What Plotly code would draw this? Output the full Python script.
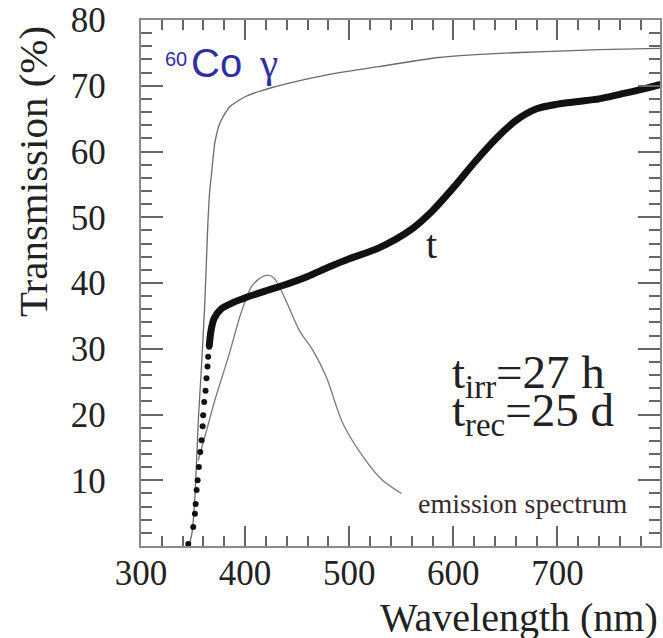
import plotly.graph_objects as go

# ---- data ----
# thick "t" curve: steep (dotted) part
t_steep_wl = [345.4, 350.2, 351.8, 352.5, 353.4, 354.4, 355.6, 356.9, 358.2, 359.2,
              359.7, 360.7, 362.0, 362.9, 363.9, 364.5, 365.5]
t_steep_T = [0.3, 2.9, 4.9, 6.4, 8.5, 10.0, 12.0, 14.3, 16.1, 18.2,
             19.9, 21.9, 23.6, 25.5, 27.3, 28.8, 30.3]
# thick "t" curve: continuous part
t_wl = [365.5, 367.1, 370.2, 377.3, 386.8, 402.7, 421.8, 437.7, 460, 480, 500, 528,
        560, 580, 600, 620, 640, 660, 680, 700, 720, 740, 760, 780, 799]
t_T = [30.3, 32.6, 34.6, 36.1, 36.9, 37.9, 38.9, 39.7, 41.0, 42.4, 43.7, 45.3,
       48.2, 51.0, 54.5, 58.3, 61.8, 64.7, 66.5, 67.2, 67.6, 68.0, 68.7, 69.4, 70.2]
# thin curve (before irradiation)
co_wl = [346, 349, 352, 355, 358, 361, 363, 364.5, 366, 367.8, 370.9, 375.7, 385.2,
         401, 430, 480, 528, 586, 640, 688, 740, 799]
co_T = [0, 2, 8, 19, 27, 36, 44, 50, 54, 56.7, 61.3, 64.3, 66.8,
        68.4, 69.9, 71.7, 72.9, 74.3, 74.9, 75.2, 75.5, 75.7]
# emission spectrum
em_wl = [355, 363, 371, 384, 396, 406, 414, 422, 428, 439, 452, 465, 478, 494, 516, 532, 550]
em_T = [13, 17.6, 22.2, 28.8, 35.4, 39.4, 40.7, 41.2, 40.7, 37.4, 32.8, 29.8, 25.7,
        18.6, 13.0, 10.0, 8.0]

x_ticks = [300, 400, 500, 600, 700]
y_ticks = [10, 20, 30, 40, 50, 60, 70, 80]

SERIF = "Liberation Serif, Times New Roman, serif"
SANS = "Liberation Sans, Arial, sans-serif"
AX = "#666666"
TXT = "#222222"
BLUE = "#2e2ea6"
PAD = "\u00a0\u00a0\u00a0"   # keeps the y tick labels away from the frame

fig = go.Figure()
fig.add_trace(go.Scatter(x=co_wl, y=co_T, mode="lines", line=dict(color="#6a6a6a", width=1.3, shape="spline", smoothing=0.6),
                         hoverinfo="skip", showlegend=False))
fig.add_trace(go.Scatter(x=em_wl, y=em_T, mode="lines", line=dict(color="#7a7a7a", width=1.3, shape="spline", smoothing=0.8),
                         hoverinfo="skip", showlegend=False))
fig.add_trace(go.Scatter(x=t_steep_wl, y=t_steep_T, mode="markers", marker=dict(color="#111", size=6),
                         hoverinfo="skip", showlegend=False))
fig.add_trace(go.Scatter(x=t_wl, y=t_T, mode="lines", line=dict(color="#111", width=7, shape="spline", smoothing=0.8),
                         hoverinfo="skip", showlegend=False))

fig.update_xaxes(range=[300, 798.5], showline=True, linecolor="#8a8a8a", linewidth=2, mirror="ticks",
                 ticks="inside", ticklen=20, tickwidth=2, tickcolor=AX, tickvals=x_ticks,
                 ticklabelstandoff=-5,
                 minor=dict(ticks="inside", ticklen=10, dtick=20, tickcolor=AX, tickwidth=2),
                 showgrid=False, zeroline=False, tickfont=dict(family=SERIF, size=35, color=TXT))
fig.update_yaxes(range=[0, 80], showline=True, linecolor="#8a8a8a", linewidth=2, mirror="ticks",
                 ticks="inside", ticklen=22, tickwidth=2, tickcolor=AX, tickvals=y_ticks,
                 ticktext=[str(v) + PAD for v in y_ticks],
                 minor=dict(ticks="inside", ticklen=11, dtick=2, tickcolor=AX, tickwidth=2),
                 showgrid=False, zeroline=False, tickfont=dict(family=SERIF, size=35, color=TXT))

ann = []
ann.append(dict(text="Wavelength (nm)", xref="paper", yref="paper", x=1.0, y=-0.136,
                xanchor="right", yanchor="middle", showarrow=False,
                font=dict(family=SERIF, size=40, color=TXT)))
ann.append(dict(text="Transmission (%)", xref="paper", yref="paper", x=-0.207, y=0.712,
                xanchor="center", yanchor="middle", textangle=-90, showarrow=False,
                font=dict(family=SERIF, size=41, color=TXT)))
ann.append(dict(text="60", xref="x", yref="y", x=333.7, y=74.1, xanchor="center", yanchor="middle",
                showarrow=False, font=dict(family=SANS, size=20, color=BLUE)))
ann.append(dict(text="Co", xref="x", yref="y", x=346.5, y=73.4, xanchor="left", yanchor="middle",
                showarrow=False, font=dict(family=SANS, size=40, color=BLUE)))
ann.append(dict(text="γ", xref="x", yref="y", x=411, y=73.5, xanchor="left", yanchor="middle",
                showarrow=False, font=dict(family=SERIF, size=41, color=BLUE)))
ann.append(dict(text="t", xref="x", yref="y", x=578.9, y=45.8, xanchor="center", yanchor="middle",
                showarrow=False, font=dict(family=SERIF, size=40, color=TXT)))
ann.append(dict(text="t<sub>irr</sub>=27 h", xref="x", yref="y", x=596.5, y=26.0, xanchor="left", yanchor="middle",
                showarrow=False, font=dict(family=SERIF, size=47, color=TXT)))
ann.append(dict(text="t<sub>rec</sub>=25 d", xref="x", yref="y", x=596.5, y=20.1, xanchor="left", yanchor="middle",
                showarrow=False, font=dict(family=SERIF, size=47, color=TXT)))
ann.append(dict(text="emission spectrum", xref="x", yref="y", x=564.6, y=6.5, xanchor="left", yanchor="middle",
                showarrow=False, font=dict(family=SERIF, size=28, color="#3a2a30")))

fig.update_layout(width=663, height=638, margin=dict(l=141, r=1, t=20, b=92),
                  paper_bgcolor="white", plot_bgcolor="white", annotations=ann)

fig.write_html("out.html")
